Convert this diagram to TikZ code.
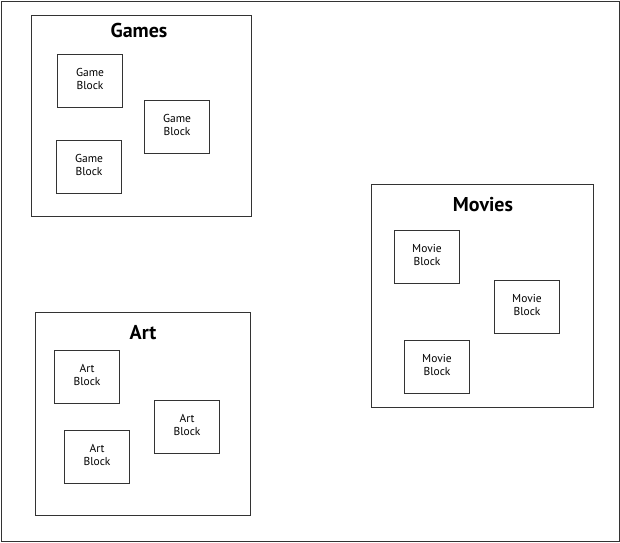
\documentclass[tikz,border=0pt]{standalone}
\usepackage{fontspec}
\setmainfont{PT Sans}
\begin{document}
\begin{tikzpicture}[x=1pt,y=-1pt,
  frame/.style={draw=black!80,line width=1pt},
  container/.style={frame,anchor=north west,inner sep=0pt},
  blockbox/.style={frame,anchor=north west,minimum width=65pt,minimum height=53pt,inner sep=0pt,
    font=\fontsize{11.5}{13.5}\selectfont,align=center,text depth=4pt},
  titletext/.style={font=\fontsize{20}{22}\bfseries\selectfont}]
\useasboundingbox (0,0) rectangle (620,542);
\node[frame,anchor=north west,minimum width=618pt,minimum height=540pt,inner sep=0pt] (outer) at (1,1) {};
% Games
\node[container,minimum width=220pt,minimum height=201pt] (games) at (31,15) {};
\node[titletext] (gamest) at (139,30) {Games};
\node[blockbox] (g1) at (57,54) {Game\\Block};
\node[blockbox] (g2) at (144,100) {Game\\Block};
\node[blockbox] (g3) at (56,140) {Game\\Block};
% Movies
\node[container,minimum width=222pt,minimum height=223pt] (movies) at (371,184) {};
\node[titletext] (moviest) at (483,205) {Movies};
\node[blockbox] (m1) at (394,230) {Movie\\Block};
\node[blockbox] (m2) at (494,280) {Movie\\Block};
\node[blockbox] (m3) at (404,340) {Movie\\Block};
% Art
\node[container,minimum width=215pt,minimum height=203pt] (art) at (35,312) {};
\node[titletext] (artt) at (143,333) {Art};
\node[blockbox] (a1) at (54,350) {Art\\Block};
\node[blockbox] (a2) at (154,400) {Art\\Block};
\node[blockbox] (a3) at (64,430) {Art\\Block};
\end{tikzpicture}
\end{document}
